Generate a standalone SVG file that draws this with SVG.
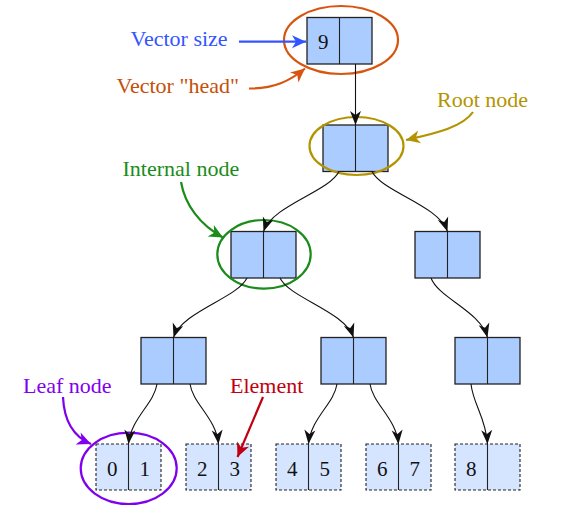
<svg xmlns="http://www.w3.org/2000/svg" width="569" height="509" viewBox="0 0 569 509">
<style>
.node{fill:#aaccff;stroke:#222;stroke-width:1.3}
.leaf{fill:#d6e5ff;stroke:#222;stroke-width:1.1;stroke-dasharray:3 2}
.div{stroke:#222;stroke-width:1.1}
.num{font-family:"Liberation Serif",serif;font-size:21px;fill:#111;text-anchor:middle}
.lbl{font-family:"Liberation Serif",serif;font-size:22px}
.edge{fill:none;stroke:#111;stroke-width:1.1;marker-end:url(#ab)}
.ann{fill:none;stroke-width:2.2}
</style>
<defs>
<marker id="ab" markerUnits="userSpaceOnUse" viewBox="-15 -7 16 14" refX="0" refY="0" markerWidth="16" markerHeight="14" orient="auto" overflow="visible"><path d="M0,0 L-14,-5.5 L-10,0 L-14,5.5 Z" fill="#111"/></marker>
<marker id="mblue" markerUnits="userSpaceOnUse" viewBox="-16 -8 17 16" refX="0" refY="0" markerWidth="17" markerHeight="16" orient="auto" overflow="visible"><path d="M0,0 L-14,-6.5 L-10,0 L-14,6.5 Z" fill="#3355ff"/></marker>
<marker id="morange" markerUnits="userSpaceOnUse" viewBox="-16 -8 17 16" refX="0" refY="0" markerWidth="17" markerHeight="16" orient="auto" overflow="visible"><path d="M0,0 L-14,-6.5 L-10,0 L-14,6.5 Z" fill="#d85510"/></marker>
<marker id="molive" markerUnits="userSpaceOnUse" viewBox="-16 -8 17 16" refX="0" refY="0" markerWidth="17" markerHeight="16" orient="auto" overflow="visible"><path d="M0,0 L-14,-6.5 L-10,0 L-14,6.5 Z" fill="#b39400"/></marker>
<marker id="mgreen" markerUnits="userSpaceOnUse" viewBox="-16 -8 17 16" refX="0" refY="0" markerWidth="17" markerHeight="16" orient="auto" overflow="visible"><path d="M0,0 L-14,-6.5 L-10,0 L-14,6.5 Z" fill="#1a8c1a"/></marker>
<marker id="mpurple" markerUnits="userSpaceOnUse" viewBox="-16 -8 17 16" refX="0" refY="0" markerWidth="17" markerHeight="16" orient="auto" overflow="visible"><path d="M0,0 L-14,-6.5 L-10,0 L-14,6.5 Z" fill="#7f00ee"/></marker>
<marker id="mred" markerUnits="userSpaceOnUse" viewBox="-16 -8 17 16" refX="0" refY="0" markerWidth="17" markerHeight="16" orient="auto" overflow="visible"><path d="M0,0 L-14,-6.5 L-10,0 L-14,6.5 Z" fill="#c00010"/></marker>
</defs>
<rect width="569" height="509" fill="#ffffff"/>

<g id="head">
<rect class="node" x="307" y="17.5" width="65" height="46.5"/>
<line class="div" x1="339.5" y1="17.5" x2="339.5" y2="64"/>
<text class="num" x="323.2" y="48.5">9</text>
</g>
<g id="root">
<rect class="node" x="323" y="125" width="65" height="46.5"/>
<line class="div" x1="355.5" y1="125" x2="355.5" y2="171.5"/>
</g>
<g id="internal-left">
<rect class="node" x="231" y="231.5" width="65" height="46.5"/>
<line class="div" x1="263.5" y1="231.5" x2="263.5" y2="278"/>
</g>
<g id="internal-right">
<rect class="node" x="415" y="231.5" width="65" height="46.5"/>
<line class="div" x1="447.5" y1="231.5" x2="447.5" y2="278"/>
</g>
<g id="l3-a">
<rect class="node" x="141" y="337.5" width="65" height="46.5"/>
<line class="div" x1="173.5" y1="337.5" x2="173.5" y2="384"/>
</g>
<g id="l3-b">
<rect class="node" x="321" y="337.5" width="65" height="46.5"/>
<line class="div" x1="353.5" y1="337.5" x2="353.5" y2="384"/>
</g>
<g id="l3-c">
<rect class="node" x="455" y="337.5" width="65" height="46.5"/>
<line class="div" x1="487.5" y1="337.5" x2="487.5" y2="384"/>
</g>
<g id="leaf-01">
<rect class="leaf" x="96" y="444" width="65" height="46"/>
<line class="div" x1="128.5" y1="444" x2="128.5" y2="490"/>
<text class="num" x="112.3" y="475.5">0</text>
<text class="num" x="144.8" y="475.5">1</text>
</g>
<g id="leaf-23">
<rect class="leaf" x="186" y="444" width="65" height="46"/>
<line class="div" x1="218.5" y1="444" x2="218.5" y2="490"/>
<text class="num" x="202.3" y="475.5">2</text>
<text class="num" x="234.8" y="475.5">3</text>
</g>
<g id="leaf-45">
<rect class="leaf" x="276" y="444" width="65" height="46"/>
<line class="div" x1="308.5" y1="444" x2="308.5" y2="490"/>
<text class="num" x="292.3" y="475.5">4</text>
<text class="num" x="324.8" y="475.5">5</text>
</g>
<g id="leaf-67">
<rect class="leaf" x="366" y="444" width="65" height="46"/>
<line class="div" x1="398.5" y1="444" x2="398.5" y2="490"/>
<text class="num" x="382.3" y="475.5">6</text>
<text class="num" x="414.8" y="475.5">7</text>
</g>
<g id="leaf-8">
<rect class="leaf" x="455" y="444" width="65" height="46"/>
<line class="div" x1="487.5" y1="444" x2="487.5" y2="490"/>
<text class="num" x="471.3" y="475.5">8</text>
</g>

<g id="highlights" fill="none" stroke-width="2.2">
<ellipse cx="341" cy="40" rx="57" ry="34" stroke="#d85510"/>
<ellipse cx="356.5" cy="146" rx="47" ry="29" stroke="#b39400"/>
<ellipse cx="264" cy="254.3" rx="46.7" ry="34.3" stroke="#1a8c1a"/>
<ellipse cx="128.7" cy="468.3" rx="48" ry="35.7" stroke="#7f00ee"/>
</g>

<g id="connectors">
<path class="edge" d="M355.5,64 L355.5,125"/>
<path class="edge" d="M339,171.5 C328.8,191.9 272.6,205.1 263.5,231.5"/>
<path class="edge" d="M372,171.5 C382.2,191.9 438.4,205.1 447.5,231.5"/>
<path class="edge" d="M247,278 C237.1,298.2 182.3,311.3 173.5,337.5"/>
<path class="edge" d="M280,278 C289.9,298.2 344.7,311.3 353.5,337.5"/>
<path class="edge" d="M431,278 C438.6,298.2 480.7,311.3 487.5,337.5"/>
<path class="edge" d="M157,384 C154,404 131,418 128.5,444"/>
<path class="edge" d="M190,384 C193,404 216,418 218.5,444"/>
<path class="edge" d="M337,384 C334,404 311,418 308.5,444"/>
<path class="edge" d="M370,384 C373,404 396,418 398.5,444"/>
<path class="edge" d="M471,384 C473,404 486,418 487.5,444"/>
</g>

<g id="annotations">
<path class="ann" d="M239,41.7 L306,41.7" stroke="#3355ff" marker-end="url(#mblue)"/>
<path class="ann" d="M249,88.5 C274,88.5 290,81 305,68.5" stroke="#d85510" marker-end="url(#morange)"/>
<path class="ann" d="M473,112 C462,128 432,134 406,140" stroke="#b39400" marker-end="url(#molive)"/>
<path class="ann" d="M181,182 C185,205 200,225 223,237.5" stroke="#1a8c1a" marker-end="url(#mgreen)"/>
<path class="ann" d="M63,397 C64,420 72,436 91,444" stroke="#7f00ee" marker-end="url(#mpurple)"/>
<path class="ann" d="M263,397 L237.5,457" stroke="#c00010" marker-end="url(#mred)"/>
</g>

<g id="labels">
<text class="lbl" x="130.5" y="46" fill="#3355ff">Vector size</text>
<text class="lbl" x="116.5" y="93" fill="#c4500a">Vector "head"</text>
<text class="lbl" x="437" y="107" fill="#b39400">Root node</text>
<text class="lbl" x="122.5" y="176" fill="#1a8c1a">Internal node</text>
<text class="lbl" x="23" y="393" fill="#7f00ee">Leaf node</text>
<text class="lbl" x="230" y="393" fill="#c00010">Element</text>
</g>
</svg>
